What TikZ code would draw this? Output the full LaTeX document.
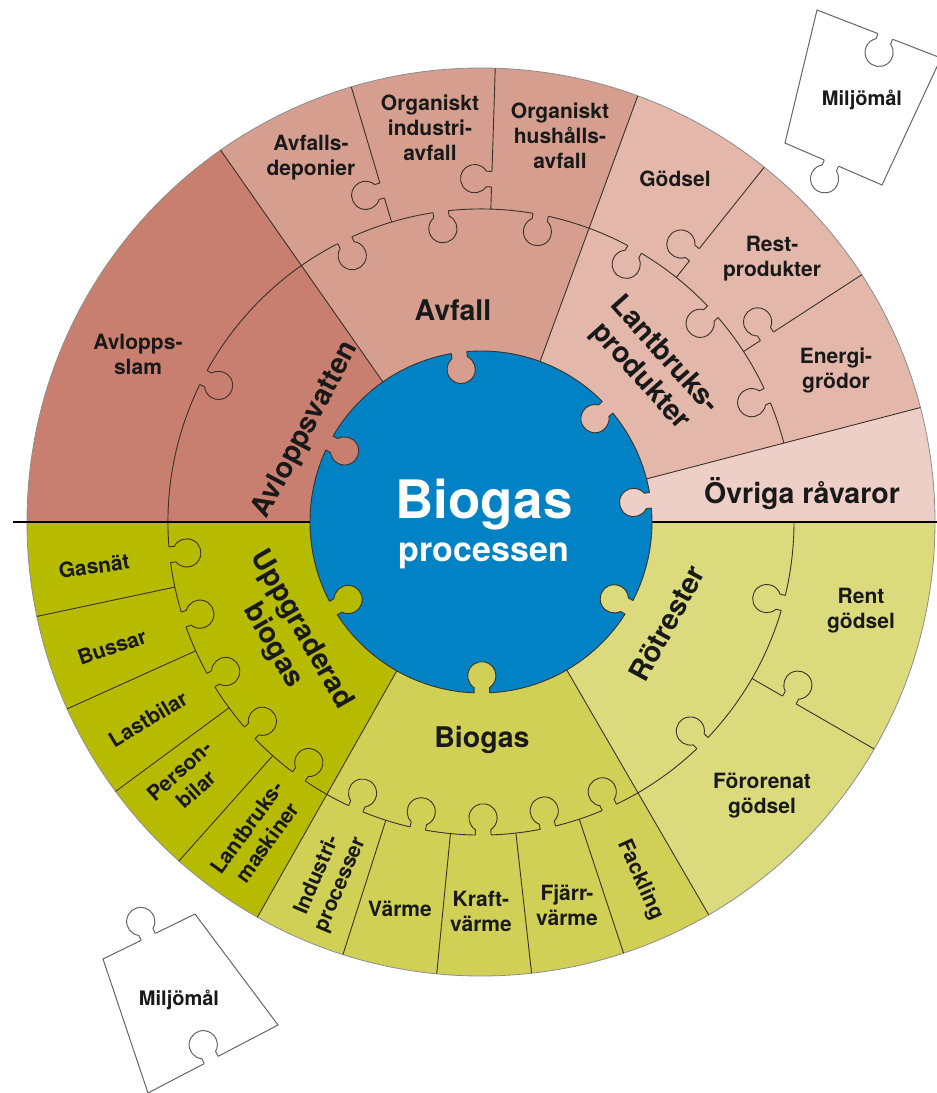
\documentclass[tikz,border=0pt]{standalone}
\usepackage{fontspec}
\setmainfont{TeX Gyre Heros}
\definecolor{cblue}{RGB}{0,130,196}
\definecolor{cavl}{RGB}{200,127,111}
\definecolor{cavf}{RGB}{214,158,142}
\definecolor{clant}{RGB}{227,183,169}
\definecolor{covr}{RGB}{237,207,199}
\definecolor{cupp}{RGB}{183,187,0}
\definecolor{cbio}{RGB}{208,208,86}
\definecolor{crot}{RGB}{219,219,126}
\definecolor{cline}{RGB}{58,50,44}
\definecolor{ctxt}{RGB}{25,25,25}
\newcommand\RadA{171}
\newcommand\RadB{313}
\newcommand\RadC{454}
\newcommand\bgWedge[3]{\fill[#1] (0,0) -- (#2:\RadC) arc[start angle=#2,end angle=#3,radius=\RadC] -- cycle;}
\newcommand\bgKnob[4]{%
 \begin{scope}[shift={#3},rotate={#4}]
  \fill[#1] (-7.8,-1.8) -- (-7.8,5.4) arc[start angle=236.5,end angle=-56.5,radius=14.1] -- (7.8,-1.8) -- cycle;
  \draw[#2] (-7.8,0) -- (-7.8,5.4) arc[start angle=236.5,end angle=-56.5,radius=14.1] -- (7.8,0);
 \end{scope}}
\newcommand\bgIn[3]{\bgKnob{#1}{edge}{(#2:#3)}{#2+90}}
\newcommand\bgSide[3]{\bgKnob{#1}{edge}{(#2:#3)}{#2}}
\begin{document}
\begin{tikzpicture}[x=1pt,y=1pt,
 edge/.style={draw=cline,line width=0.9pt},
 pz/.style={draw=black!60,line width=1pt},
 outl/.style={font=\fontsize{21}{25}\selectfont\bfseries,align=center,text=ctxt,inner sep=0pt},
 midl/.style={font=\fontsize{28.5}{32.5}\selectfont\bfseries,align=center,text=ctxt,inner sep=0pt}]
\useasboundingbox (-481,-571) rectangle (456,522);
\fill[white] (-481,-571) rectangle (456,522);
% sectors
\bgWedge{covr}{0}{14.6}
\bgWedge{clant}{14.6}{69.8}
\bgWedge{cavf}{69.8}{125}
\bgWedge{cavl}{125}{180}
\bgWedge{cupp}{180}{240.5}
\bgWedge{cbio}{240.5}{300.1}
\bgWedge{crot}{300.1}{360}
\fill[cblue] (0,0) circle[radius=\RadA];
\draw[black!45,line width=0.8pt] (0,0) circle[radius=\RadC];
% boundaries
\foreach \a in {14.6,69.8,125,240.5,300.1} {\draw[edge] (\a:\RadA) -- (\a:\RadC);}
\foreach \a in {33,51.4,88.2,106.6,192,204.3,216.4,228.3,252.3,264.4,276.4,288.3,330} {\draw[edge] (\a:\RadB) -- (\a:\RadC);}
\draw[edge] (14.6:\RadB) arc[start angle=14.6,end angle=360,radius=\RadB];
\draw[edge] (0,0) circle[radius=\RadA];
% knobs of outer pieces into the middle ring
\bgIn{cavl}{152.5}{\RadB}
\bgIn{cavf}{115.8}{\RadB}
\bgIn{cavf}{97.4}{\RadB}
\bgIn{cavf}{79}{\RadB}
\bgIn{clant}{60.6}{\RadB}
\bgIn{clant}{42.2}{\RadB}
\bgIn{clant}{23.8}{\RadB}
\bgIn{cupp}{186}{\RadB}
\bgIn{cupp}{198.15}{\RadB}
\bgIn{cupp}{210.35}{\RadB}
\bgIn{cupp}{222.35}{\RadB}
\bgIn{cupp}{234.4}{\RadB}
\bgIn{cbio}{246.4}{\RadB}
\bgIn{cbio}{258.35}{\RadB}
\bgIn{cbio}{270.4}{\RadB}
\bgIn{cbio}{282.35}{\RadB}
\bgIn{cbio}{294.2}{\RadB}
\bgIn{crot}{315.05}{\RadB}
\bgIn{crot}{345}{\RadB}
% knobs on radial lines
\bgSide{cavf}{106.6}{346}
\bgSide{cavf}{88.2}{343}
\bgSide{clant}{51.4}{342}
\bgSide{clant}{33}{341}
\bgSide{crot}{330}{356}
% knobs of middle ring into the centre
\bgIn{cavl}{152.5}{\RadA}
\bgIn{cavf}{97.4}{\RadA}
\bgIn{clant}{42.2}{\RadA}
\bgIn{covr}{7.3}{\RadA}
\bgIn{cupp}{210.25}{\RadA}
\bgIn{cbio}{270.3}{\RadA}
\bgIn{crot}{330.05}{\RadA}
% horizontal line
\draw[black,line width=2pt] (-468,0) -- (-\RadA,0);
\draw[black,line width=2pt] (\RadA,0) -- (456,0);
% centre
\node[font=\fontsize{53}{57}\selectfont\bfseries,text=white,inner sep=0pt,anchor=base] (biogasc) at (3,4) {Biogas};
\node[font=\fontsize{34}{38}\selectfont\bfseries,text=white,inner sep=0pt,anchor=base] (processen) at (3,-39) {processen};
% middle ring labels
\node[midl] (avfall) at (-28,212) {Avfall};
\node[midl,rotate=-48] (lantbruk) at (171,156) {Lantbruks-\\produkter};
\node[midl,rotate=62] (avloppsv) at (-175,92) {Avloppsvatten};
\node[midl] (ovriga) at (321,28) {Övriga råvaror};
\node[midl,rotate=-60] (uppgr) at (-194,-116) {Uppgraderad\\biogas};
\node[midl] (biogasr) at (1,-218) {Biogas};
\node[midl,rotate=61.5] (rotrest) at (186,-101) {Rötrester};
% outer ring labels
\node[outl] (avslam) at (-343,168) {Avlopps-\\slam};
\node[outl] (avdep) at (-170,364) {Avfalls-\\deponier};
\node[outl] (orgind) at (-51,394) {Organiskt\\industri-\\avfall};
\node[outl] (orghus) at (79,386) {Organiskt\\hushålls-\\avfall};
\node[outl] (godsel) at (194,343) {Gödsel};
\node[outl] (restp) at (291,263) {Rest-\\produkter};
\node[outl] (energi) at (355,152) {Energi-\\grödor};
\node[outl] (rent) at (380,-89) {Rent\\gödsel};
\node[outl] (fororen) at (281,-274) {Förorenat\\gödsel};
\node[outl,rotate=8] (gasnat) at (-387,-44) {Gasnät};
\node[outl,rotate=19] (bussar) at (-369,-125) {Bussar};
\node[outl,rotate=31] (lastbil) at (-333,-197) {Lastbilar};
\node[outl,rotate=42] (person) at (-293,-258) {Person-\\bilar};
\node[outl,rotate=54] (lantmask) at (-224,-313) {Lantbruks-\\maskiner};
\node[outl,rotate=67] (industri) at (-152,-358) {Industri-\\processer};
\node[outl] (varme) at (-81,-387) {Värme};
\node[outl] (kraft) at (0,-389) {Kraft-\\värme};
\node[outl] (fjarr) at (86,-383) {Fjärr-\\värme};
\node[outl,rotate=-66] (fackling) at (159,-358) {Fackling};
% puzzle piece top right
\filldraw[fill=white,pz] (336,512) -- (460,464) -- (401,337) -- (304,379) -- cycle;
\bgKnob{white}{pz}{(350.4,358.9)}{156.6}
\bgKnob{white}{pz}{(404.3,485.6)}{158.8}
\node[outl,font=\fontsize{20}{24}\selectfont\bfseries] (miljo1) at (381,422) {Miljömål};
% puzzle piece bottom left
\filldraw[fill=white,pz] (-378,-437) -- (-286,-392) -- (-203,-503) -- (-333,-571) -- cycle;
\bgKnob{white}{pz}{(-332.7,-414.9)}{26.1}
\bgKnob{white}{pz}{(-269.8,-537.9)}{27.6}
\node[outl,font=\fontsize{20}{24}\selectfont\bfseries] (miljo2) at (-302,-478) {Miljömål};
\end{tikzpicture}
\end{document}
